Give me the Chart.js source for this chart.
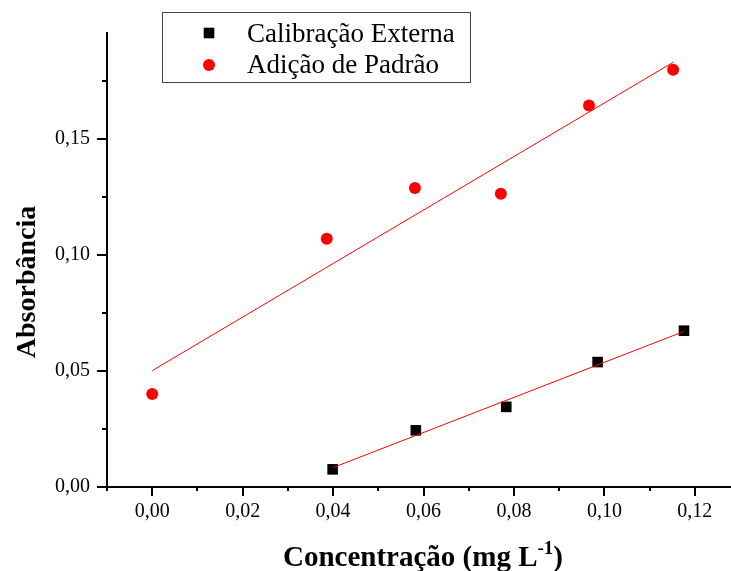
<!DOCTYPE html>
<html>
<head>
<meta charset="utf-8">
<script src="https://cdn.jsdelivr.net/npm/chart.js@4.4.1/dist/chart.umd.min.js"></script>
<style>
  html, body { margin: 0; padding: 0; background: #fff; overflow: hidden; }
  #chart { display: block; }
</style>
</head>
<body>
<canvas id="chart" width="731" height="571"></canvas>
<script>
// dados
const concExterna = [0.0399, 0.0583, 0.0783, 0.0985, 0.1176];
const absExterna = [0.0076, 0.0244, 0.0345, 0.0538, 0.0673];
const concPadrao = [0.0, 0.0386, 0.0581, 0.0771, 0.0966, 0.1152];
const absPadrao = [0.0400, 0.1069, 0.1288, 0.1263, 0.1643, 0.1797];

// retas de ajuste (extremos)
const fitExternaX = [0.0399, 0.1176];
const fitExternaY = [0.0083, 0.0670];
const fitPadraoX = [0.0, 0.1153];
const fitPadraoY = [0.0501, 0.1830];

const xTicks = [-0.01, 0.00, 0.01, 0.02, 0.03, 0.04, 0.05, 0.06, 0.07, 0.08, 0.09, 0.10, 0.11, 0.12];
const xLabels = [0.00, 0.02, 0.04, 0.06, 0.08, 0.10, 0.12];
const yTicks = [0.000, 0.025, 0.050, 0.075, 0.100, 0.125, 0.150, 0.175];
const yLabels = [0.00, 0.05, 0.10, 0.15];

const toPts = (xs, ys) => xs.map((x, i) => ({ x: x, y: ys[i] }));
const isLabel = (list, v) => list.some(l => Math.abs(l - v) < 1e-6);
const fmt = v => v.toFixed(2).replace(".", ",");

const serif = "'Liberation Serif', 'Times New Roman', serif";

const extras = {
  id: "extras",
  afterDraw(chart) {
    const ctx = chart.ctx;
    const xs = chart.scales.x, ys = chart.scales.y;
    const area = chart.chartArea;
    ctx.save();
    // marcas dos eixos
    ctx.strokeStyle = "#000";
    ctx.lineWidth = 2;
    ctx.beginPath();
    xs.ticks.forEach(t => {
      const px = Math.round(xs.getPixelForValue(t.value));
      const len = isLabel(xLabels, t.value) ? 9 : 4;
      ctx.moveTo(px, area.bottom);
      ctx.lineTo(px, area.bottom + len);
    });
    ys.ticks.forEach(t => {
      const py = Math.round(ys.getPixelForValue(t.value));
      const len = isLabel(yLabels, t.value) ? 10 : 5;
      ctx.moveTo(area.left, py);
      ctx.lineTo(area.left - len, py);
    });
    ctx.stroke();

    // título do eixo x com expoente
    ctx.fillStyle = "#000";
    ctx.textBaseline = "alphabetic";
    ctx.textAlign = "left";
    const big = "bold 29px " + serif, small = "bold 19px " + serif;
    const p1 = "Concentração (mg L", p2 = "-1", p3 = ")";
    ctx.font = big; const w1 = ctx.measureText(p1).width, w3 = ctx.measureText(p3).width;
    ctx.font = small; const w2 = ctx.measureText(p2).width;
    let x0 = 423 - (w1 + w2 + w3) / 2;
    const base = 566;
    ctx.font = big; ctx.fillText(p1, x0, base);
    ctx.font = small; ctx.fillText(p2, x0 + w1, base - 12);
    ctx.font = big; ctx.fillText(p3, x0 + w1 + w2, base);

    // título do eixo y
    ctx.save();
    ctx.translate(35, 282);
    ctx.rotate(-Math.PI / 2);
    ctx.textAlign = "center";
    ctx.font = "bold 28px " + serif;
    ctx.fillText("Absorbância", 0, 0);
    ctx.restore();

    // legenda
    ctx.lineWidth = 1;
    ctx.strokeStyle = "#444";
    ctx.strokeRect(162.5, 12.5, 308, 70);
    const rows = [{ ds: 0, my: 33, by: 42 }, { ds: 1, my: 65, by: 73 }];
    ctx.font = "27px " + serif;
    rows.forEach(r => {
      const d = chart.data.datasets[r.ds];
      ctx.fillStyle = d.backgroundColor;
      ctx.strokeStyle = d.borderColor;
      Chart.helpers.drawPoint(ctx, { pointStyle: d.pointStyle, radius: d.pointRadius, rotation: 0, borderWidth: 0 }, 209, r.my);
      ctx.fillStyle = "#000";
      ctx.fillText(d.label, 247, r.by);
    });
    ctx.restore();
  }
};

new Chart(document.getElementById("chart"), {
  type: "scatter",
  data: {
    datasets: [
      {
        label: "Calibração Externa",
        data: toPts(concExterna, absExterna),
        pointStyle: "rect",
        pointRadius: 7.5,
        pointHoverRadius: 7.5,
        backgroundColor: "#000",
        borderColor: "#000",
        borderWidth: 0,
        order: 2
      },
      {
        label: "Adição de Padrão",
        data: toPts(concPadrao, absPadrao),
        pointStyle: "circle",
        pointRadius: 6,
        pointHoverRadius: 6,
        backgroundColor: "#ff0000",
        borderColor: "#ff0000",
        borderWidth: 0,
        order: 2
      },
      {
        type: "line",
        label: "ajuste externa",
        data: toPts(fitExternaX, fitExternaY),
        borderColor: "#ff0000",
        borderWidth: 1,
        pointRadius: 0,
        fill: false,
        order: 1
      },
      {
        type: "line",
        label: "ajuste padrão",
        data: toPts(fitPadraoX, fitPadraoY),
        borderColor: "#ff0000",
        borderWidth: 1,
        pointRadius: 0,
        fill: false,
        order: 1
      }
    ]
  },
  options: {
    responsive: false,
    animation: false,
    layout: { autoPadding: false, padding: { top: 33, right: 0, left: 0, bottom: 0 } },
    plugins: {
      legend: { display: false },
      tooltip: { enabled: false }
    },
    scales: {
      x: {
        type: "linear",
        min: -0.01,
        max: 0.128,
        afterBuildTicks: s => { s.ticks = xTicks.map(v => ({ value: v })); },
        afterFit: s => { s.height = 84; s.paddingLeft = 0; s.paddingRight = 0; },
        grid: { display: true, drawOnChartArea: false, drawTicks: false },
        border: { display: true, color: "#000", width: 2 },
        ticks: {
          autoSkip: false,
          maxRotation: 0,
          padding: 13,
          color: "#000",
          font: { family: serif, size: 20 },
          callback: v => isLabel(xLabels, v) ? fmt(v) : ""
        }
      },
      y: {
        type: "linear",
        min: 0,
        max: 0.1955,
        afterBuildTicks: s => { s.ticks = yTicks.map(v => ({ value: v })); },
        afterFit: s => { s.width = 107; s.paddingTop = 0; s.paddingBottom = 0; },
        grid: { display: true, drawOnChartArea: false, drawTicks: false },
        border: { display: true, color: "#000", width: 2 },
        ticks: {
          autoSkip: false,
          padding: 17,
          color: "#000",
          font: { family: serif, size: 20 },
          callback: v => isLabel(yLabels, v) ? fmt(v) : ""
        }
      }
    }
  },
  plugins: [extras]
});
</script>
</body>
</html>
